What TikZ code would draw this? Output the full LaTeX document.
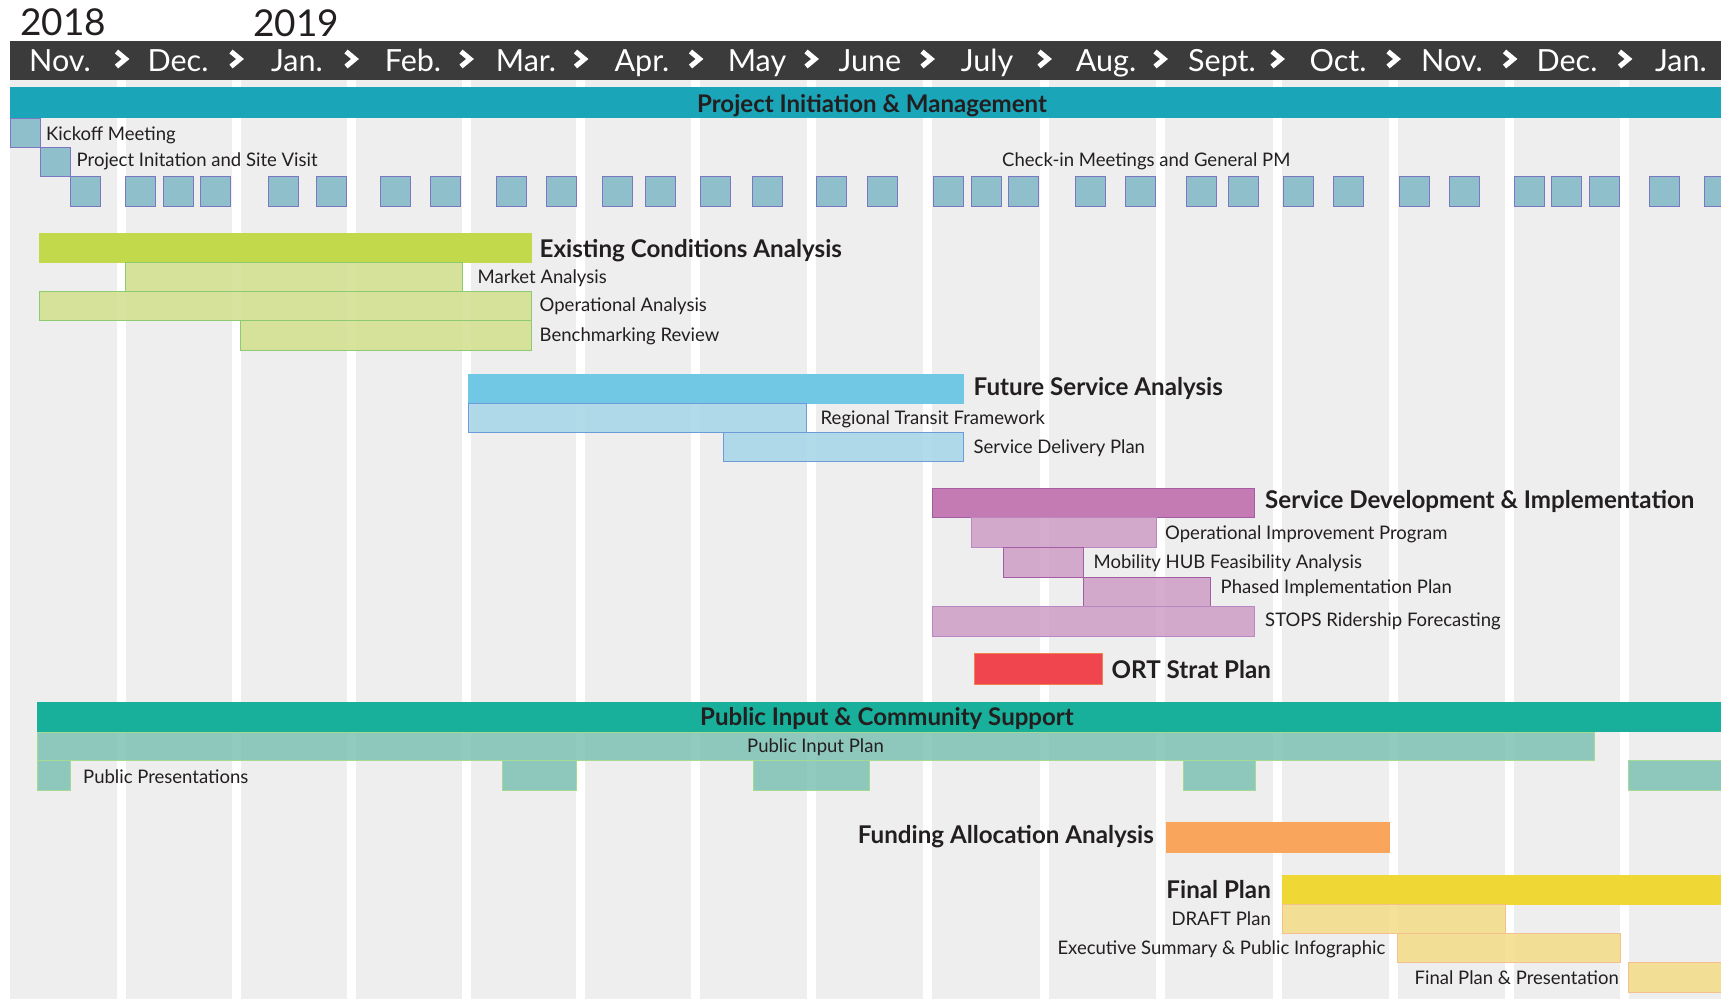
\documentclass[tikz,border=0pt]{standalone}
\usepackage{fontspec}
\setmainfont{Lato}
\newfontfamily\condfont{Lato}[FakeStretch=0.99]
\usetikzlibrary{positioning}

\definecolor{headgray}{HTML}{3B3B3B}
\definecolor{bggray}{HTML}{EEEEEE}
\definecolor{inkdark}{HTML}{231F20}
\definecolor{pmteal}{HTML}{1BA5B8}
\definecolor{pmbox}{HTML}{8FBFCA}
\definecolor{pmedge}{HTML}{7B77C2}
\definecolor{ecmain}{HTML}{C2D94B}
\definecolor{ecsub}{HTML}{D2DF8C}
\definecolor{ecedge}{HTML}{8DCB72}
\definecolor{fsmain}{HTML}{71C8E4}
\definecolor{fssub}{HTML}{A5D5E7}
\definecolor{fsedge}{HTML}{6D9BD8}
\definecolor{sdmain}{HTML}{C47BB4}
\definecolor{sdedge}{HTML}{A45CA3}
\definecolor{sdsub}{HTML}{CE9EC5}
\definecolor{sdsubedge}{HTML}{B988C2}
\definecolor{ortred}{HTML}{F0444E}
\definecolor{ortedge}{HTML}{F0804F}
\definecolor{piteal}{HTML}{18B09B}
\definecolor{pisub}{HTML}{7EC1B3}
\definecolor{piedge}{HTML}{A5DA92}
\definecolor{faorange}{HTML}{F9A65C}
\definecolor{fpmain}{HTML}{EFD736}
\definecolor{fpsub}{HTML}{F3DD86}
\definecolor{fpedge}{HTML}{F4C08E}

\tikzset{
    task/.style 2 args={fill=#1, draw=#2, line width=1pt},
    subtask/.style 2 args={fill=#1, fill opacity=.85, draw=#2, line width=1pt},
    meeting/.style={fill=pmbox, draw=pmedge, line width=1pt},
    lbl/.style={font=\condfont\fontsize{18.7}{20}\selectfont, text=inkdark, inner sep=0pt, anchor=base west},
    lblr/.style={lbl, anchor=base east},
    title/.style={font=\condfont\bfseries\fontsize{24.4}{27}\selectfont, text=inkdark, inner sep=0pt, anchor=base west},
    titler/.style={title, anchor=base east},
    bandtitle/.style={font=\condfont\bfseries\fontsize{24.3}{27}\selectfont, text=inkdark, inner sep=0pt, anchor=base},
    month/.style={font=\fontsize{30.5}{32}\selectfont, text=white, inner sep=0pt, anchor=base},
    year/.style={font=\fontsize{37}{40}\selectfont, text=inkdark, inner sep=0pt, anchor=base west},
}

\begin{document}
\begin{tikzpicture}[x=1pt, y=-1pt]

\useasboundingbox (0,0) rectangle (1721,999);
\fill[white] (0,0) rectangle (1721,999);

% background and month grid
\fill[bggray] (9.6,80) rectangle (1721,999);
\foreach \gx in {121.5,236,351,466,580.5,695.5,811,927,1044,1160,1277,1393,1509.5,1624.5}
    \fill[white] (\gx-4.5,80) rectangle (\gx+4.5,999);

\fill[headgray] (9.6,41) rectangle (1721,80);
\foreach \mx/\mname [count=\i] in {60/Nov., 178/Dec., 297/Jan., 413/Feb., 526/Mar., 642/Apr., 757/May, 870/June, 987/July, 1106/Aug., 1222/Sept., 1338/Oct., 1452/Nov., 1567/Dec., 1681/Jan.}
    \node[month] (m\i) at (\mx,71) {\mname};
\foreach \gx in {121.5,236,351,466,580.5,695.5,811,927,1044,1160,1277,1393,1509.5,1624.5}
    \draw[white, line width=5pt, miter limit=4] (\gx-5,51.5) -- (\gx+4,59) -- (\gx-5,66.5);

\node[year] (y2018) at (20,35) {2018};
\node[year] (y2019) at (253,36) {2019};

% project initiation & management
\fill[pmteal] (9.6,87) rectangle (1721,118);
\node[bandtitle] (pim) at (872,112) {Project Initiation \& Management};

\path[meeting] (10,118) rectangle (40.5,147);
\node[lbl] (kickoff) at (46,140.5) {Kickoff Meeting};
\path[meeting] (40.5,147) rectangle (70,176.5);
\node[lbl] (sitevisit) at (76.5,166.5) {Project Initation and Site Visit};
\node[lbl] (checkin) at (1002,166.5) {Check-in Meetings and General PM};
\foreach \sx in {70,125,163.5,200.5,268.5,316,380.5,430.5,496,546.5,602,645.5,700,752.5,816,867,933.5,971,1008.5,1075.5,1125,1186,1228.5,1283,1333,1399,1449.5,1514.5,1551.5,1589.5,1649.5,1704.5}
    \path[meeting] (\sx,176.5) rectangle +(30,29.5);

% existing conditions
\path[task={ecmain}{ecmain}] (39,233) rectangle (531,262);
\node[title] (eca) at (539.5,257) {Existing Conditions Analysis};
\path[subtask={ecsub}{ecedge}] (125,262) rectangle (462,291);
\node[lbl] (market) at (477.5,283) {Market Analysis};
\path[subtask={ecsub}{ecedge}] (39,291) rectangle (531,320);
\node[lbl] (opanalysis) at (539.5,311.5) {Operational Analysis};
\path[subtask={ecsub}{ecedge}] (240,320) rectangle (531,350);
\node[lbl] (bench) at (539.5,341.5) {Benchmarking Review};

% future service
\path[task={fsmain}{fsmain}] (468.7,374) rectangle (963,403);
\node[title] (fsa) at (973.5,395.5) {Future Service Analysis};
\path[subtask={fssub}{fsedge}] (468.7,403) rectangle (806,432.5);
\node[lbl] (regional) at (820.5,424.5) {Regional Transit Framework};
\path[subtask={fssub}{fsedge}] (723,432.5) rectangle (963,461.5);
\node[lbl] (delivery) at (973.5,453) {Service Delivery Plan};

% service development
\path[task={sdmain}{sdedge}] (932,488) rectangle (1254,517);
\node[title] (sdi) at (1265,508) {Service Development \& Implementation};
\path[subtask={sdsub}{sdsubedge}] (971,517) rectangle (1156,547);
\node[lbl] (oip) at (1165,539) {Operational Improvement Program};
\path[subtask={sdsub}{sdedge}] (1003,547) rectangle (1083,577);
\node[lbl] (hub) at (1093.5,568) {Mobility HUB Feasibility Analysis};
\path[subtask={sdsub}{sdedge}] (1083,577) rectangle (1210,606);
\node[lbl] (phased) at (1220.5,593) {Phased Implementation Plan};
\path[subtask={sdsub}{sdsubedge}] (932,606) rectangle (1254,636);
\node[lbl] (stops) at (1265,626.5) {STOPS Ridership Forecasting};

\path[task={ortred}{ortedge}] (974,653) rectangle (1102.5,684);
\node[title] (ort) at (1111.5,678) {ORT Strat Plan};

% public input
\fill[piteal] (37.3,702) rectangle (1721,732);
\node[bandtitle] (pics) at (887,725) {Public Input \& Community Support};
\path[subtask={pisub}{piedge}] (37.3,732) rectangle (1594,760);
\node[lbl, anchor=base] (piplan) at (815.5,752.5) {Public Input Plan};
\foreach \px/\pw in {37.3/32.7, 502/74, 753/116.5, 1183/72.5, 1628/93}
    \path[subtask={pisub}{piedge}] (\px,760) rectangle +(\pw,30);
\node[lbl] (presentations) at (83,783) {Public Presentations};

% funding and final plan
\path[task={faorange}{faorange}] (1166,822) rectangle (1389,852);
\node[titler] (faa) at (1154,843) {Funding Allocation Analysis};
\path[task={fpmain}{fpmain}] (1282,875) rectangle (1721,904);
\node[titler] (fplan) at (1271,898) {Final Plan};
\path[subtask={fpsub}{fpedge}] (1282,904) rectangle (1505,933);
\node[lblr] (draft) at (1271,925) {DRAFT Plan};
\path[subtask={fpsub}{fpedge}] (1397,933) rectangle (1620.5,962.5);
\node[lblr] (summary) at (1385.5,954) {Executive Summary \& Public Infographic};
\path[subtask={fpsub}{fpedge}] (1628,962) rectangle (1721,992);
\node[lblr] (fpp) at (1619,984) {Final Plan \& Presentation};

\end{tikzpicture}
\end{document}
